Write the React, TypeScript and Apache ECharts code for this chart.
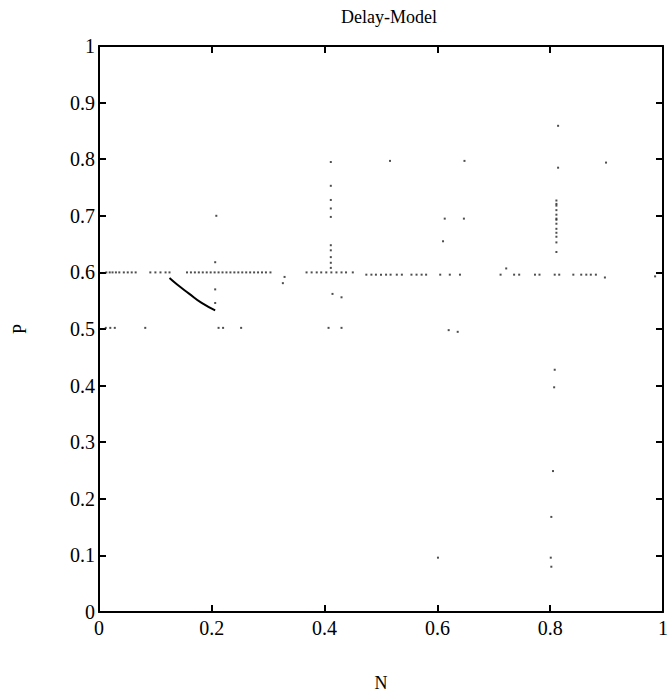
import React, { useEffect, useRef } from "react";
import * as echarts from "echarts";

const titleText = "Delay-Model";
const xName = "N";
const yName = "P";

// dotted row near P = 0.6 (left part)
const rowUpperX = [0.013, 0.019, 0.024, 0.03, 0.036, 0.044, 0.051, 0.058, 0.065, 0.091, 0.1, 0.109, 0.118, 0.125,
  0.156, 0.163, 0.17, 0.177, 0.184, 0.191, 0.198, 0.205, 0.212, 0.219, 0.226, 0.233, 0.24, 0.247, 0.254, 0.261,
  0.268, 0.275, 0.282, 0.289, 0.296, 0.304, 0.368, 0.377, 0.386, 0.394, 0.403, 0.412, 0.421, 0.43, 0.438, 0.45];
const rowUpperY = 0.6;
// dotted row near P = 0.6 (right part)
const rowLowerX = [0.474, 0.483, 0.491, 0.5, 0.509, 0.517, 0.528, 0.537, 0.554, 0.563, 0.572, 0.58, 0.605, 0.622,
  0.64, 0.712, 0.736, 0.745, 0.773, 0.781, 0.808, 0.816, 0.841, 0.855, 0.864, 0.872, 0.881];
const rowLowerY = 0.596;
// dotted row near P = 0.5
const rowHalfX = [0.012, 0.02, 0.028, 0.082, 0.212, 0.22, 0.252, 0.407, 0.43];
const rowHalfY = 0.502;
// column near N = 0.41
const colMidY = [0.795, 0.753, 0.728, 0.713, 0.698, 0.648, 0.639, 0.627, 0.617, 0.608];
const colMidX = 0.411;
// column near N = 0.81
const colRightY = [0.727, 0.721, 0.718, 0.71, 0.702, 0.695, 0.693, 0.686, 0.677, 0.67, 0.663, 0.653, 0.636];
const colRightX = 0.811;
// other isolated dots [N, P]
const looseDots: [number, number][] = [
  [0.206, 0.618], [0.206, 0.57], [0.206, 0.546], [0.208, 0.7], [0.326, 0.581], [0.329, 0.592],
  [0.414, 0.562], [0.43, 0.556], [0.516, 0.797], [0.648, 0.797], [0.814, 0.859], [0.814, 0.785],
  [0.899, 0.794], [0.613, 0.695], [0.647, 0.695], [0.61, 0.655], [0.722, 0.607], [0.897, 0.591],
  [0.986, 0.593], [0.62, 0.498], [0.636, 0.495], [0.808, 0.428], [0.807, 0.397], [0.805, 0.249],
  [0.802, 0.168], [0.601, 0.096], [0.801, 0.096], [0.802, 0.08],
];
// solid curve
const curveN = [0.125, 0.138, 0.159, 0.182, 0.206];
const curveP = [0.59, 0.579, 0.563, 0.546, 0.533];

const FONT = "'Liberation Serif', 'DejaVu Serif', serif";

export default function App() {
  const ref = useRef<HTMLDivElement>(null);
  useEffect(() => {
    if (!ref.current) return;
    const chart = echarts.init(ref.current, undefined, { renderer: "svg" });
    const dots: [number, number][] = [];
    rowUpperX.forEach((x) => dots.push([x, rowUpperY]));
    rowLowerX.forEach((x) => dots.push([x, rowLowerY]));
    rowHalfX.forEach((x) => dots.push([x, rowHalfY]));
    colMidY.forEach((y) => dots.push([colMidX, y]));
    colRightY.forEach((y) => dots.push([colRightX, y]));
    looseDots.forEach((d) => dots.push(d));
    const fmt = (v: number) => String(Math.round(v * 10) / 10);
    const axisLine = { show: true, onZero: false, lineStyle: { color: "#000", width: 2 } };
    const tickIn = { show: true, inside: true, length: 7, lineStyle: { color: "#000", width: 2 } };
    chart.setOption({
      animation: false,
      backgroundColor: "#fff",
      title: {
        text: titleText,
        left: 384,
        top: 3,
        textAlign: "center",
        textStyle: { fontFamily: FONT, fontSize: 18, fontWeight: "normal", color: "#000" },
      },
      grid: { left: 99, right: 3, top: 46, bottom: 78, containLabel: false },
      xAxis: [
        {
          type: "value", min: 0, max: 1, interval: 0.2, position: "bottom",
          axisLine, axisTick: tickIn, splitLine: { show: false },
          axisLabel: { formatter: fmt, fontFamily: FONT, fontSize: 20, color: "#000", margin: 6 },
          name: xName, nameLocation: "middle", nameGap: 62,
          nameTextStyle: { fontFamily: FONT, fontSize: 18, color: "#000" },
        },
        {
          type: "value", min: 0, max: 1, interval: 0.2, position: "top",
          axisLine, axisTick: tickIn, splitLine: { show: false }, axisLabel: { show: false },
        },
      ],
      yAxis: [
        {
          type: "value", min: 0, max: 1, interval: 0.1, position: "left",
          axisLine, axisTick: tickIn, splitLine: { show: false },
          axisLabel: { formatter: fmt, fontFamily: FONT, fontSize: 20, color: "#000", margin: 4 },
          name: yName, nameLocation: "middle", nameGap: 70, nameRotate: 90,
          nameTextStyle: { fontFamily: FONT, fontSize: 18, color: "#000" },
        },
        {
          type: "value", min: 0, max: 1, interval: 0.1, position: "right",
          axisLine, axisTick: tickIn, splitLine: { show: false }, axisLabel: { show: false },
        },
      ],
      series: [
        {
          type: "scatter", name: "dots", data: dots, symbol: "rect", symbolSize: 2,
          itemStyle: { color: "#222" }, xAxisIndex: 0, yAxisIndex: 0,
        },
        {
          type: "line", name: "curve", data: curveN.map((n, i) => [n, curveP[i]]), smooth: true,
          showSymbol: false, lineStyle: { color: "#000", width: 2 }, xAxisIndex: 0, yAxisIndex: 0,
        },
      ],
    });
    return () => chart.dispose();
  }, []);
  return <div ref={ref} style={{ width: 671, height: 697, position: "absolute", left: 0, top: 0 }} />;
}
